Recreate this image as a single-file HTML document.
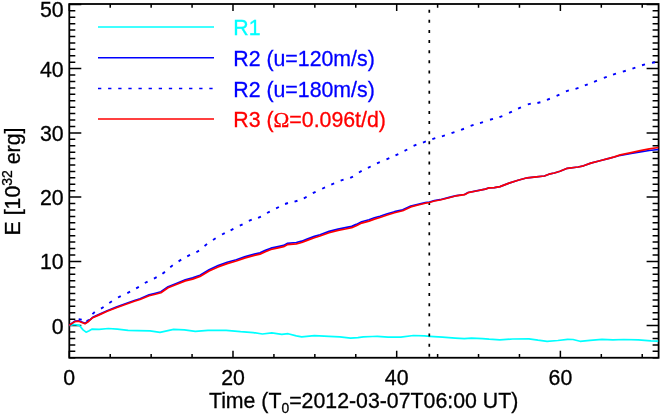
<!DOCTYPE html><html><head><meta charset="utf-8"><style>html,body{margin:0;padding:0;background:#fff;}svg{display:block;will-change:transform;}text{font-family:"Liberation Sans",sans-serif;stroke-width:0.3px;}</style></head><body>
<svg width="664" height="419" viewBox="0 0 664 419">
<rect width="664" height="419" fill="#fff"/>
<rect x="69.3" y="4.0" width="589.3000000000001" height="353.75" fill="none" stroke="#000" stroke-width="1.8"/>
<path d="M69.30,357.75v-7M69.30,4.0v7M110.22,357.75v-3.8M110.22,4.0v3.8M151.15,357.75v-3.8M151.15,4.0v3.8M192.07,357.75v-3.8M192.07,4.0v3.8M232.99,357.75v-7M232.99,4.0v7M273.92,357.75v-3.8M273.92,4.0v3.8M314.84,357.75v-3.8M314.84,4.0v3.8M355.77,357.75v-3.8M355.77,4.0v3.8M396.69,357.75v-7M396.69,4.0v7M437.61,357.75v-3.8M437.61,4.0v3.8M478.54,357.75v-3.8M478.54,4.0v3.8M519.46,357.75v-3.8M519.46,4.0v3.8M560.38,357.75v-7M560.38,4.0v7M601.31,357.75v-3.8M601.31,4.0v3.8M642.23,357.75v-3.8M642.23,4.0v3.8M69.3,357.75h6M658.6,357.75h-6M69.3,351.32h6M658.6,351.32h-6M69.3,344.90h6M658.6,344.90h-6M69.3,338.48h6M658.6,338.48h-6M69.3,332.05h6M658.6,332.05h-6M69.3,325.62h12M658.6,325.62h-12M69.3,319.20h6M658.6,319.20h-6M69.3,312.77h6M658.6,312.77h-6M69.3,306.35h6M658.6,306.35h-6M69.3,299.93h6M658.6,299.93h-6M69.3,293.50h6M658.6,293.50h-6M69.3,287.07h6M658.6,287.07h-6M69.3,280.65h6M658.6,280.65h-6M69.3,274.23h6M658.6,274.23h-6M69.3,267.80h6M658.6,267.80h-6M69.3,261.38h12M658.6,261.38h-12M69.3,254.95h6M658.6,254.95h-6M69.3,248.53h6M658.6,248.53h-6M69.3,242.10h6M658.6,242.10h-6M69.3,235.68h6M658.6,235.68h-6M69.3,229.25h6M658.6,229.25h-6M69.3,222.83h6M658.6,222.83h-6M69.3,216.40h6M658.6,216.40h-6M69.3,209.97h6M658.6,209.97h-6M69.3,203.55h6M658.6,203.55h-6M69.3,197.12h12M658.6,197.12h-12M69.3,190.70h6M658.6,190.70h-6M69.3,184.28h6M658.6,184.28h-6M69.3,177.85h6M658.6,177.85h-6M69.3,171.43h6M658.6,171.43h-6M69.3,165.00h6M658.6,165.00h-6M69.3,158.58h6M658.6,158.58h-6M69.3,152.15h6M658.6,152.15h-6M69.3,145.72h6M658.6,145.72h-6M69.3,139.30h6M658.6,139.30h-6M69.3,132.88h12M658.6,132.88h-12M69.3,126.45h6M658.6,126.45h-6M69.3,120.03h6M658.6,120.03h-6M69.3,113.60h6M658.6,113.60h-6M69.3,107.18h6M658.6,107.18h-6M69.3,100.75h6M658.6,100.75h-6M69.3,94.32h6M658.6,94.32h-6M69.3,87.90h6M658.6,87.90h-6M69.3,81.48h6M658.6,81.48h-6M69.3,75.05h6M658.6,75.05h-6M69.3,68.62h12M658.6,68.62h-12M69.3,62.20h6M658.6,62.20h-6M69.3,55.78h6M658.6,55.78h-6M69.3,49.35h6M658.6,49.35h-6M69.3,42.93h6M658.6,42.93h-6M69.3,36.50h6M658.6,36.50h-6M69.3,30.07h6M658.6,30.07h-6M69.3,23.65h6M658.6,23.65h-6M69.3,17.23h6M658.6,17.23h-6M69.3,10.80h6M658.6,10.80h-6M69.3,4.38h12M658.6,4.38h-12" stroke="#000" stroke-width="1.5" fill="none"/>
<polyline points="69.3,325.3 74.7,324.5 79.3,325.4 83.1,329.9 86.1,332.2 89.2,330.8 92.2,329.1 99.1,329.3 108.3,328.5 117.4,329.1 128.1,330.4 137.3,330.7 150.0,330.9 160.0,332.3 173.6,329.4 184.4,329.9 195.3,331.4 208.0,330.3 226.1,330.3 240.6,331.7 253.3,332.6 262.4,334.0 271.8,332.9 281.8,334.4 288.1,333.7 296.3,335.9 301.7,336.8 314.4,335.7 328.9,336.3 339.8,336.8 350.6,338.2 357.9,337.7 363.3,336.8 372.4,336.5 377.3,336.3 388.1,337.2 400.8,337.2 413.5,335.5 424.4,335.9 429.8,336.3 442.5,337.2 455.2,338.1 464.3,338.6 471.5,338.1 482.4,338.6 489.1,339.2 499.9,339.9 512.6,339.0 528.9,338.8 538.0,340.2 547.1,341.3 557.9,340.5 567.6,339.4 573.0,339.5 580.0,341.3 590.0,340.4 602.0,339.3 612.9,339.9 623.8,339.5 638.3,339.9 651.0,340.8 658.2,341.1" fill="none" stroke="#00ffff" stroke-width="1.7" stroke-linejoin="round"/>
<path d="M429.3,353.80V356.80M429.3,343.68V346.68M429.3,333.56V336.56M429.3,323.44V326.44M429.3,313.32V316.32M429.3,303.20V306.20M429.3,293.08V296.08M429.3,282.96V285.96M429.3,272.84V275.84M429.3,262.72V265.72M429.3,252.60V255.60M429.3,242.48V245.48M429.3,232.36V235.36M429.3,222.24V225.24M429.3,212.12V215.12M429.3,202.00V205.00M429.3,191.88V194.88M429.3,181.76V184.76M429.3,171.64V174.64M429.3,161.52V164.52M429.3,151.40V154.40M429.3,141.28V144.28M429.3,131.16V134.16M429.3,121.04V124.04M429.3,110.92V113.92M429.3,100.80V103.80M429.3,90.68V93.68M429.3,80.56V83.56M429.3,70.44V73.44M429.3,60.32V63.32M429.3,50.20V53.20M429.3,40.08V43.08M429.3,29.96V32.96M429.3,19.84V22.84M429.3,9.72V12.72" stroke="#000" stroke-width="1.7" fill="none"/>
<polyline points="69.3,325.2 74.7,321.2 78.5,320.8 80.0,321.3 85.0,323.3 88.2,321.3 92.7,317.3 98.1,314.9 107.2,310.8 116.3,307.1 125.3,303.8 134.4,300.5 140.0,298.7 149.1,294.9 155.4,293.3 160.9,291.8 168.1,286.8 176.3,283.5 185.3,279.8 192.6,277.9 200.0,275.2 209.1,269.7 218.1,265.6 227.2,262.3 236.3,259.7 245.3,256.6 254.4,254.1 260.0,252.8 265.4,250.4 270.9,248.2 278.1,246.6 283.6,245.4 287.2,243.4 296.3,242.5 301.7,241.2 307.1,239.1 314.4,236.4 320.0,234.7 329.1,231.4 338.1,229.1 345.4,227.7 351.7,226.4 356.3,224.4 361.7,221.8 369.0,219.8 374.4,217.8 380.0,216.2 387.3,213.8 394.5,211.7 402.7,209.8 410.8,206.1 418.1,204.3 425.3,202.7 429.4,202.0 434.4,200.6 440.0,199.7 449.1,197.4 456.3,195.6 464.5,194.5 468.1,192.5 476.3,190.9 485.3,189.1 489.0,187.8 494.4,187.7 500.0,186.6 509.1,183.1 518.1,180.2 527.2,177.8 536.3,176.9 544.4,176.0 549.0,174.2 554.4,173.0 560.0,171.3 567.3,168.3 578.1,167.0 583.6,165.8 590.8,163.1 599.9,160.7 609.0,158.4 614.4,157.0 620.3,155.3 631.2,153.5 640.3,151.9 649.3,150.5 658.4,149.5" fill="none" stroke="#0000ff" stroke-width="1.7" stroke-linejoin="round"/>
<path d="M78.66,319.20L81.74,319.60M86.60,321.06L89.40,319.74M92.44,314.12L94.76,312.08M101.00,308.64L103.60,306.96M109.30,302.94L111.90,301.26M118.03,297.53L120.77,296.07M127.32,293.10L130.08,291.70M136.16,288.37L138.84,286.83M144.84,283.04L147.56,281.56M153.94,278.64L156.66,277.16M162.44,273.71L164.96,271.89M170.27,267.14L172.73,265.26M178.58,261.32L181.22,259.68M187.22,256.31L189.98,254.89M196.38,252.21L199.02,250.59M204.55,245.92L207.05,244.08M212.99,239.93L215.61,238.27M222.03,234.53L224.77,233.07M230.61,230.29L233.39,228.91M239.82,225.71L242.58,224.29M248.87,220.81L251.73,219.59M258.08,217.82L260.92,216.58M267.03,213.02L269.77,211.58M276.11,208.38L278.89,207.02M285.04,204.01L287.96,202.99M294.52,201.67L297.48,200.73M303.80,198.27L306.60,196.93M312.82,193.21L315.58,191.79M322.19,188.75L325.01,187.45M331.27,184.61L334.13,183.39M340.64,180.72L343.56,179.68M350.20,177.86L353.00,176.54M358.95,172.46L361.65,170.94M367.91,167.89L370.69,166.51M376.99,163.34L379.81,162.06M386.48,159.42L389.32,158.18M395.50,155.37L398.30,154.03M404.52,150.91L407.28,149.49M413.58,145.93L416.42,144.67M422.94,142.52L425.86,141.48M432.32,139.07L435.28,138.13M441.92,136.36L444.88,135.44M451.53,133.11L454.47,132.09M461.05,129.85L463.95,128.75M470.64,125.92L473.56,124.88M480.02,123.06L482.98,122.14M490.02,119.76L492.98,118.84M499.45,117.14L502.35,116.06M509.09,112.85L511.91,111.55M518.08,108.62L520.92,107.38M527.81,104.42L530.79,103.58M537.39,102.97L540.41,102.23M546.95,99.85L549.85,98.75M556.59,95.93L559.41,94.67M565.94,91.33L568.86,90.27M575.52,88.86L578.48,87.94M584.85,85.46L587.75,84.34M594.06,81.87L596.94,80.73M603.85,77.95L606.75,76.85M613.03,74.58L615.97,73.62M622.82,71.66L625.78,70.74M632.43,68.59L635.37,67.61M642.01,65.22L644.99,64.38M651.99,62.93L655.01,62.27" stroke="#0000ff" stroke-width="1.9" fill="none"/>
<polyline points="69.3,325.2 74.7,321.6 78.5,321.2 80.0,321.7 85.0,323.7 88.2,321.7 92.7,317.7 98.1,315.4 107.2,311.3 116.3,307.7 125.3,304.5 134.4,301.3 140.0,299.5 149.1,295.8 155.4,294.2 160.9,292.7 168.1,287.8 176.3,284.5 185.3,280.9 192.6,279.1 200.0,276.4 209.1,271.0 218.1,266.9 227.2,263.6 236.3,261.0 245.3,257.9 254.4,255.4 260.0,254.1 265.4,251.7 270.9,249.5 278.1,247.9 283.6,246.7 287.2,244.7 296.3,243.8 301.7,242.5 307.1,240.4 314.4,237.7 320.0,236.0 329.1,232.7 338.1,230.4 345.4,229.0 351.7,227.7 356.3,225.7 361.7,223.1 369.0,221.1 374.4,219.1 380.0,217.5 387.3,215.0 394.5,212.8 402.7,210.7 410.8,206.9 418.1,205.0 425.3,203.2 429.4,202.5 434.4,201.0 440.0,200.0 449.1,197.7 456.3,195.8 464.5,194.7 468.1,192.7 476.3,191.0 485.3,189.2 489.0,187.9 494.4,187.7 500.0,186.6 509.1,183.1 518.1,180.2 527.2,177.8 536.3,176.9 544.4,176.0 549.0,174.2 554.4,173.0 560.0,171.3 567.3,168.3 578.1,167.0 583.6,165.8 590.8,163.1 599.9,160.7 609.0,158.4 614.4,156.9 620.3,154.9 631.2,152.7 640.3,150.7 649.3,148.9 658.4,147.5" fill="none" stroke="#ff0000" stroke-width="1.7" stroke-linejoin="round"/>
<text x="69.3" y="385.0" font-size="21.3" stroke="#000" text-anchor="middle">0</text>
<text x="233.0" y="385.0" font-size="21.3" stroke="#000" text-anchor="middle">20</text>
<text x="396.7" y="385.0" font-size="21.3" stroke="#000" text-anchor="middle">40</text>
<text x="560.4" y="385.0" font-size="21.3" stroke="#000" text-anchor="middle">60</text>
<text x="63.7" y="333.6" font-size="21.3" stroke="#000" text-anchor="end">0</text>
<text x="63.7" y="269.4" font-size="21.3" stroke="#000" text-anchor="end">10</text>
<text x="63.7" y="205.1" font-size="21.3" stroke="#000" text-anchor="end">20</text>
<text x="63.7" y="140.9" font-size="21.3" stroke="#000" text-anchor="end">30</text>
<text x="63.7" y="76.6" font-size="21.3" stroke="#000" text-anchor="end">40</text>
<text x="63.7" y="17.3" font-size="21.3" stroke="#000" text-anchor="end">50</text>
<text x="363.6" y="408.0" font-size="21.3" stroke="#000" text-anchor="middle">Time (T<tspan font-size="13.8" dy="4.8">0</tspan><tspan dy="-4.8">=2012-03-07T06:00 UT)</tspan></text>
<text transform="translate(20.1,181.5) rotate(-90)" font-size="21.3" stroke="#000" text-anchor="middle">E [10<tspan font-size="14" dy="-8">32</tspan><tspan dy="8"> erg]</tspan></text>
<line x1="98" y1="26.9" x2="214" y2="26.9" stroke="#00ffff" stroke-width="1.5"/>
<text x="233.3" y="34.8" font-size="21.3" fill="#00ffff" stroke="#00ffff">R1</text>
<line x1="98" y1="57.8" x2="214" y2="57.8" stroke="#0000ff" stroke-width="1.5"/>
<text x="233.3" y="65.7" font-size="21.3" fill="#0000ff" stroke="#0000ff">R2 (u=120m/s)</text>
<line x1="98" y1="88.6" x2="214" y2="88.6" stroke="#0000ff" stroke-width="1.5" stroke-dasharray="3.3 6.82"/>
<text x="233.3" y="96.5" font-size="21.3" fill="#0000ff" stroke="#0000ff">R2 (u=180m/s)</text>
<line x1="98" y1="119.05" x2="214" y2="119.05" stroke="#ff0000" stroke-width="1.5"/>
<text x="233.3" y="127.0" font-size="21.3" fill="#ff0000" stroke="#ff0000">R3 (<tspan font-family="Liberation Serif">Ω</tspan>=0.096t/d)</text>
</svg></body></html>
